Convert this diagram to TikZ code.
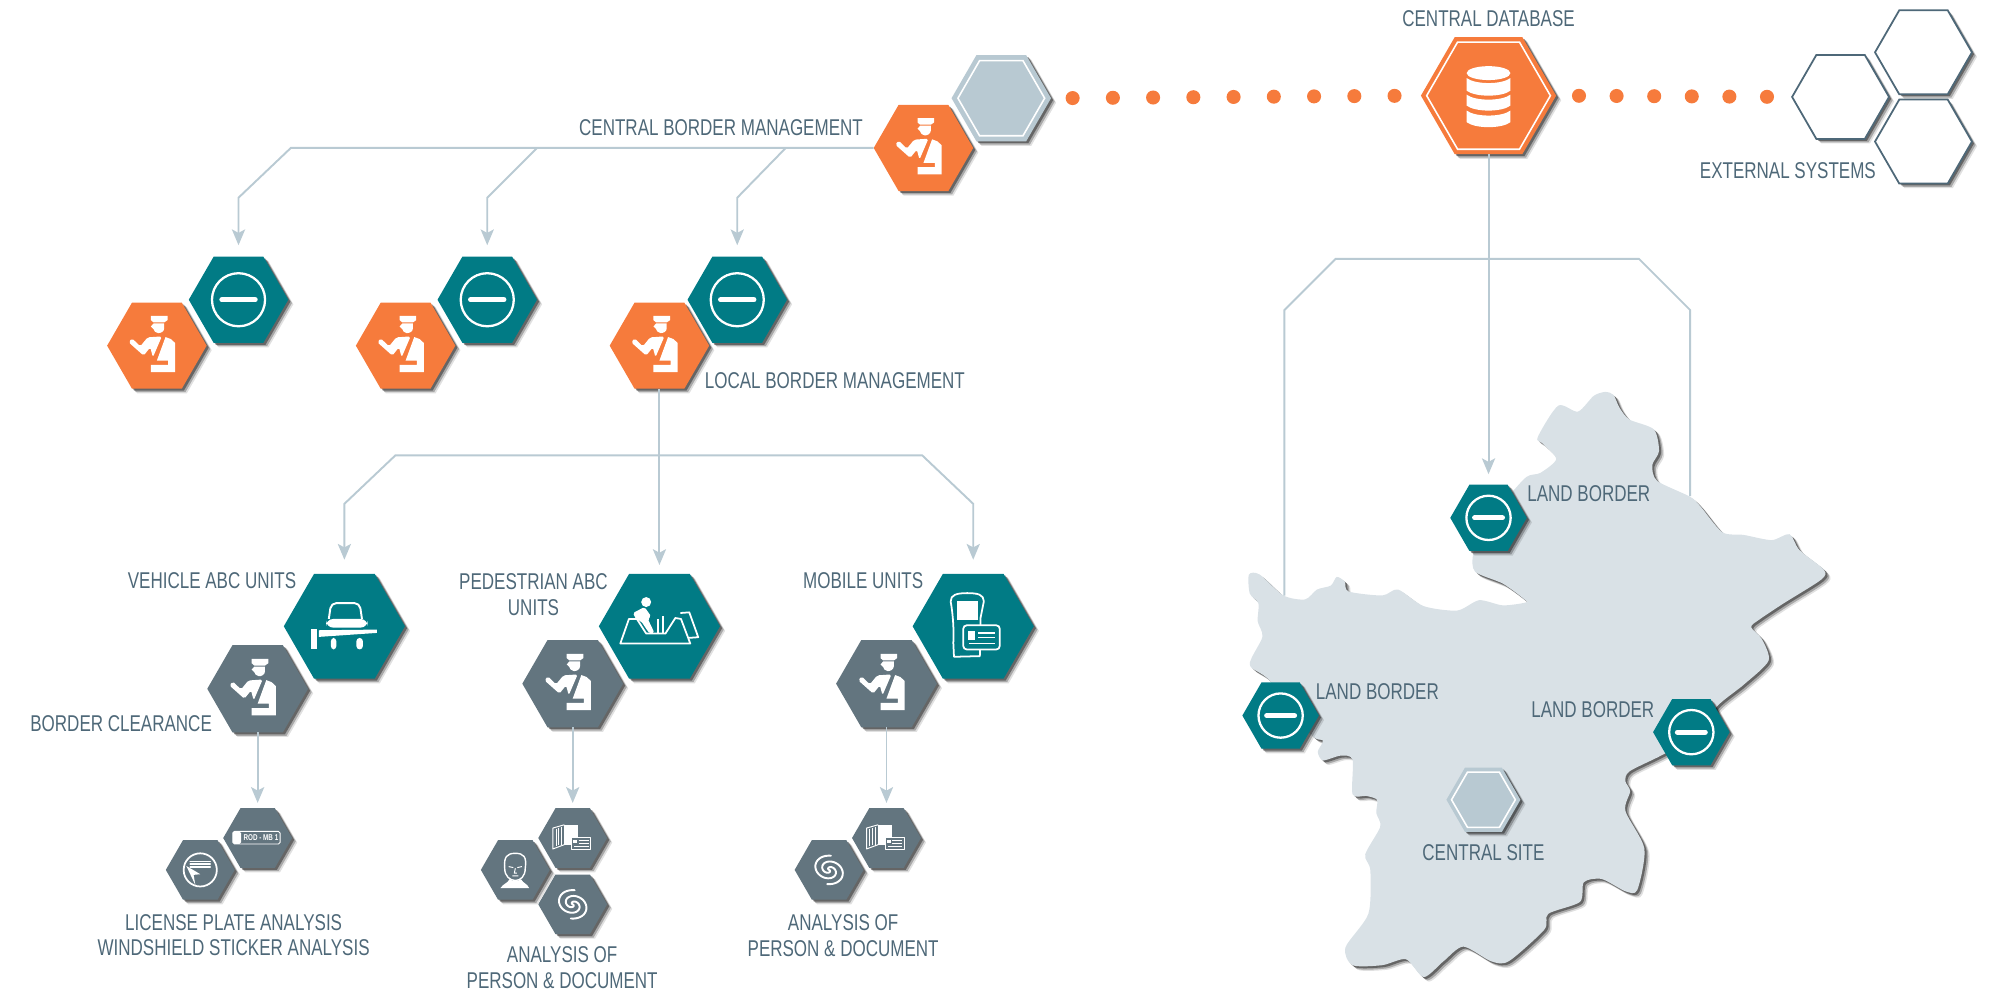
\documentclass[tikz,border=0pt]{standalone}
\usepackage{fontspec}
\setmainfont[FakeStretch=0.745]{Liberation Sans}
\usetikzlibrary{positioning,shapes.geometric,shadows,arrows.meta}

\definecolor{tealc}{HTML}{017B85}
\definecolor{orangec}{HTML}{F67B3C}
\definecolor{grayc}{HTML}{63757F}
\definecolor{linec}{HTML}{B9CAD3}
\definecolor{sitec}{HTML}{B8C9D2}
\definecolor{mapc}{HTML}{D9E1E6}
\definecolor{textc}{HTML}{4E6878}

\tikzset{
  softshadow/.style={
    drop shadow={shadow xshift=2.9pt,shadow yshift=-2.6pt,opacity=.12,fill=black},
    drop shadow={shadow xshift=2.1pt,shadow yshift=-1.9pt,opacity=.25,fill=black},
    drop shadow={shadow xshift=1.2pt,shadow yshift=-1.1pt,opacity=.4,fill=black}},
  hexbase/.style={regular polygon, regular polygon sides=6, inner sep=0pt, outer sep=0pt,
    minimum size=#1*0.02551cm, softshadow},
  tealhex/.style={hexbase=#1, fill=tealc},
  orangehex/.style={hexbase=#1, fill=orangec},
  grayhex/.style={hexbase=#1, fill=grayc},
  sitehex/.style={hexbase=#1, fill=sitec},
  openhex/.style={hexbase=#1, fill=white, draw=textc, line width=1pt},
  insethex/.style={regular polygon, regular polygon sides=6, inner sep=0pt, outer sep=0pt,
    minimum size=#1*0.02551cm, draw=white, line width=.9pt},
  lbl/.style={text=textc, inner sep=0pt, align=center, font=\fontsize{13}{14.6}\selectfont},
  conn/.style={draw=linec, line width=1.1pt},
  arr/.style={conn, -{Stealth[length=9pt,width=7.5pt,inset=2pt]}},
  dotline/.style={draw=orangec, line width=8pt, line cap=round},
  iconline/.style={draw=white, line width=1pt, line join=round},
  thinline/.style={draw=white, line width=.55pt, line join=round},
  officer/.pic={
    \fill[white] (-18,-90) -- (32,-90) -- (32,-77) -- (22,-70) -- (-10,-70) -- (-18,-77) -- cycle;
    \fill[white] (-10,-67) -- (22,-67) -- (22,-52) .. controls (22,-42) and (10,-37) .. (3,-38)
      .. controls (-4,-39) and (-10,-45) .. (-10,-50) -- (-18,-58) -- cycle;
    \fill[white,rounded corners=1pt] (-85,-10) -- (-75,-22) -- (-50,2) -- (-28,-25) -- (15,-28)
      -- (-12,35) -- (-20,5) -- (-40,30) -- cycle;
    \fill[white] (26,-26) -- (42,-20) -- (55,-8) -- (55,80) -- (-18,80) -- (-18,58) -- (34,58)
      -- (34,45) -- (0,45) -- cycle;
  },
  nogo/.pic={
    \draw[white, line width=1.3pt] (0,0) circle (80);
    \draw[white, line width=3pt, line cap=round] (-50,0) -- (50,0);
  },
  dbstack/.pic={
    \fill[white] (0,-68) ellipse (66 and 21);
    \foreach \up/\lo in {-53/-15,-3/30,45/80} {
      \fill[white] (-66,\up) .. controls (-40,\up+20) and (40,\up+20) .. (66,\up) -- (66,\lo)
        .. controls (40,\lo+20) and (-40,\lo+20) .. (-66,\lo) -- cycle;
    }
  },
  vehicle/.pic={
    \draw[iconline, line width=1.1pt, rounded corners=3pt] (-47,-22) -- (-40,-70) -- (46,-70) -- (53,-22);
    \fill[white, rounded corners=4pt] (-55,4) -- (-55,-22) -- (70,-22) -- (70,4) -- cycle;
    \path[fill=tealc] (-82,5) rectangle (98,13);
    \fill[white] (-77,12) -- (98,10) -- (98,20) -- (-77,32) -- cycle;
    \fill[white] (-102,7) rectangle (-82,70);
    \fill[white, rounded corners=2pt] (-41,35) rectangle (-24,70);
    \fill[white, rounded corners=2pt] (36,35) rectangle (56,70);
  },
  pedgate/.pic={
    \draw[iconline] (-118,52) -- (-92,-22) -- (-68,-22) -- (-40,22) -- (18,22) -- (48,-25)
      -- (65,-22) -- (93,52) -- cycle;
    \draw[iconline] (63,-40) -- (90,-42) -- (117,33) -- (88,35);
    \fill[white] (-40,-73) circle (15);
    \fill[white, rounded corners=1pt] (-80,-40) -- (-45,-58) -- (-25,-30) -- (-35,-22)
      -- (-15,20) -- (-30,22) -- (-55,-15) -- (-70,-20) -- cycle;
    \draw[iconline, line width=1.4pt] (-4,-22) -- (-4,22);
    \draw[iconline, line width=1.4pt] (10,-30) -- (10,22);
  },
  mobile/.pic={
    \draw[iconline] (-68,-75) .. controls (-68,-95) and (-50,-100) .. (-18,-100)
      .. controls (15,-100) and (32,-95) .. (32,-75) -- (22,-25) -- (20,90) -- (-58,92)
      -- (-60,50) .. controls (-58,20) and (-60,-30) .. (-68,-75) -- cycle;
    \fill[white] (-50,-75) rectangle (15,-20);
    \draw[iconline, fill=tealc, rounded corners=2pt] (-30,-3) rectangle (80,70);
    \fill[white] (-15,13) rectangle (5,40);
    \draw[iconline, line width=.7pt] (15,20) -- (65,20) (15,33) -- (65,33) (-13,53) -- (65,53);
  },
  docs/.pic={
    \fill[white] (-25,-40) rectangle (17,20);
    \draw[thinline] (-25,-40) -- (-60,-30) -- (-60,33) -- (-25,20);
    \draw[thinline] (-50,-28) -- (-50,25) (-42,-30) -- (-42,22) (-33,-32) -- (-33,20);
    \draw[thinline, fill=grayc] (-3,-2) rectangle (53,35);
    \fill[white] (2,5) rectangle (13,15);
    \draw[thinline] (18,8) -- (48,8) (18,17) -- (48,17) (5,27) -- (48,27);
  },
  swirl/.pic={
    \begin{scope}[rotate=-20, yscale=.8]
      \draw[iconline, line width=1.1pt, line cap=round] plot[domain=0:440, samples=50, variable=\t, smooth]
        ({(.5+.12*\t)*cos(\t)},{(.5+.12*\t)*sin(\t)});
      \draw[iconline, line width=1.1pt, line cap=round] plot[domain=0:440, samples=50, variable=\t, smooth]
        ({-(.5+.12*\t)*cos(\t)},{-(.5+.12*\t)*sin(\t)});
    \end{scope}
  },
  face/.pic={
    \draw[thinline, line width=.8pt] (-32,-5) .. controls (-35,-40) and (-25,-50) .. (0,-50)
      .. controls (25,-50) and (35,-40) .. (30,-5) .. controls (30,20) and (15,32) .. (0,32)
      .. controls (-15,32) and (-32,20) .. (-32,-5) -- cycle;
    \draw[thinline] (-20,-10) -- (-6,-7) (6,-7) -- (20,-10) (0,-5) -- (-3,10) -- (5,10) (-9,18) -- (9,18);
    \fill[white] (-45,55) .. controls (-35,40) and (-25,42) .. (-17,28) .. controls (-8,36) and (8,36) .. (17,28)
      .. controls (25,42) and (35,40) .. (42,55) -- cycle;
  },
  plate/.pic={
    \draw[thinline, rounded corners=1pt] (-75,-20) rectangle (68,18);
    \fill[white, rounded corners=1pt] (-75,-20) rectangle (-50,18);
    \node[text=white, inner sep=0pt, font=\fontsize{4.8}{5}\selectfont\bfseries] (platetext) at (10,-1) {ROD - MB 1};
  },
  sticker/.pic={
    \draw[iconline] (0,0) circle (50);
    \draw[iconline, line cap=round] (-30,-25) -- (30,-25) (-30,-17) -- (30,-17) (-30,-9) -- (30,-9);
    \fill[white] (-42,-12) -- (0,13) -- (-20,15) -- (-15,45) -- cycle;
  },
}

\begin{document}
\begin{tikzpicture}[x=0.02551cm,y=-0.02551cm]
  \useasboundingbox (0,0) rectangle (1568,780);

  % the map
  \begin{scope}[shift={(964.3,297.9)},scale=.31]
    \fill[mapc, softshadow]
      plot[smooth cycle, tension=.45] coordinates {
      (950,30) (970,38) (985,70) (1010,100) (1072,125) (1085,180) (1068,215) (1080,255) (1163,295)
      (1190,320) (1245,385) (1300,392) (1370,405) (1415,390) (1440,430) (1502,480) (1495,505)
      (1400,565) (1340,605) (1318,625) (1345,655) (1362,710) (1300,770) (1232,825) (1180,900)
      (1090,950) (1010,990) (1000,1015) (1012,1040) (1000,1090) (1048,1185) (1030,1290) (1000,1293)
      (940,1262) (895,1270) (885,1320) (805,1350) (795,1390) (705,1470) (660,1470) (590,1433)
      (540,1470) (490,1510) (445,1465) (385,1480) (310,1480) (292,1435) (350,1350) (355,1240)
      (342,1200) (380,1130) (370,1095) (372,1062) (345,1052) (310,1048) (310,960) (280,950)
      (235,962) (222,940) (235,912) (205,897) (100,760) (50,720) (82,650) (70,610) (72,565)
      (50,540) (48,492) (75,492) (135,545) (190,555) (220,530) (255,520) (270,498) (290,510)
      (300,535) (385,545) (425,530) (490,572) (575,583) (630,557) (690,570) (747,563) (745,555)
      (690,515) (620,485) (615,440) (640,380) (700,300) (750,245) (785,235) (825,200) (790,160)
      (778,145) (830,65) (880,80) (920,40)};
  \end{scope}

  % top row
  \node[orangehex=78] (mgmt) at (724,116) {};
  \node[sitehex=78] (central) at (785,77) {};
  \node[insethex=68] (centralin) at (central) {};
  \node[orangehex=106] (db) at (1167,75) {};
  \node[insethex=97] (dbin) at (db) {};
  \node[openhex=76] (ext1) at (1443,76) {};
  \node[openhex=76] (ext2) at (1508,41) {};
  \node[openhex=76] (ext3) at (1508,111) {};

  % local stations
  \node[tealhex=78] (stop1) at (187,235) {};
  \node[orangehex=78] (local1) at (123,271) {};
  \node[tealhex=78] (stop2) at (382,235) {};
  \node[orangehex=78] (local2) at (318,271) {};
  \node[tealhex=78] (stop3) at (578,235) {};
  \node[orangehex=78] (local3) at (517,271) {};

  % lanes
  \node[tealhex=95] (veh) at (270,491) {};
  \node[grayhex=79] (vehguard) at (202,540) {};
  \node[tealhex=95] (ped) at (517,491) {};
  \node[grayhex=79] (pedguard) at (449,536) {};
  \node[tealhex=95] (mob) at (763,491) {};
  \node[grayhex=79] (mobguard) at (695,536) {};

  % analysis
  \node[grayhex=54] (plate1) at (202,657) {};
  \node[grayhex=54] (sticker1) at (157,682) {};
  \node[grayhex=54] (doc1) at (449,657) {};
  \node[grayhex=54] (face1) at (404,682) {};
  \node[grayhex=54] (print1) at (449,709) {};
  \node[grayhex=54] (doc2) at (695,657) {};
  \node[grayhex=54] (print2) at (650,682) {};

  % on the map
  \node[tealhex=60] (land1) at (1167,406) {};
  \node[tealhex=60] (land2) at (1004,561) {};
  \node[tealhex=60] (land3) at (1326,574) {};
  \node[sitehex=58] (site) at (1163,627) {};
  \node[insethex=50] (sitein) at (site) {};

  % icons
  \foreach \n in {mgmt,local1,local2,local3,vehguard,pedguard,mobguard}
    \pic[scale=.26] at (\n) {officer};
  \foreach \n in {stop1,stop2,stop3}
    \pic[scale=.26] at (\n) {nogo};
  \foreach \n in {land1,land2,land3}
    \pic[scale=.217] at (\n) {nogo};
  \pic[scale=.26] at (db) {dbstack};
  \pic[scale=.26] at (veh) {vehicle};
  \pic[scale=.26] at (ped) {pedgate};
  \pic[scale=.26] at (mob) {mobile};
  \foreach \n in {doc1,doc2}
    \pic[scale=.26] at (\n) {docs};
  \foreach \n in {print1,print2}
    \pic[scale=.26] at (\n) {swirl};
  \pic[scale=.26] at (face1) {face};
  \pic[scale=.26] at (plate1) {plate};
  \pic[scale=.26] at (sticker1) {sticker};

  % free ends
  \coordinate (fork1a) at (228,116);
  \coordinate (fork1b) at (187,155);
  \coordinate (fork2a) at (421,116);
  \coordinate (fork2b) at (382,155);
  \coordinate (fork3a) at (616,116);
  \coordinate (fork3b) at (578,155);
  \coordinate (lane0) at (517,357);
  \coordinate (lane1a) at (310,357);
  \coordinate (lane1b) at (270,395);
  \coordinate (lane3a) at (723,357);
  \coordinate (lane3b) at (763,395);
  \coordinate (db0) at (1167,203);
  \coordinate (db1a) at (1047,203);
  \coordinate (db1b) at (1007,243);
  \coordinate (db1c) at (1007,467);
  \coordinate (db2a) at (1285,203);
  \coordinate (db2b) at (1325,243);
  \coordinate (db2c) at (1325,389);

  % connectors
  \draw[arr, shorten >=6.5pt] (mgmt.west) -- (fork1a) -- (fork1b) -- (stop1.north);
  \draw[arr, shorten >=6.5pt] (fork2a) -- (fork2b) -- (stop2.north);
  \draw[arr, shorten >=6.5pt] (fork3a) -- (fork3b) -- (stop3.north);
  \draw[arr, shorten >=5pt] (local3.south) -- (ped.north);
  \draw[arr, shorten >=8pt] (lane0) -- (lane1a) -- (lane1b) -- (veh.north);
  \draw[arr, shorten >=8pt] (lane0) -- (lane3a) -- (lane3b) -- (mob.north);
  \draw[arr, shorten >=3pt] (vehguard.south) -- (plate1.north);
  \draw[arr, shorten >=3pt] (pedguard.south) -- (doc1.north);
  \draw[arr, shorten >=3pt] (mobguard.south) -- (doc2.north);
  \draw[arr, shorten >=6pt] (db.south) -- (land1.north);
  \draw[conn] (db0) -- (db1a) -- (db1b) -- (db1c);
  \draw[conn] (db0) -- (db2a) -- (db2b) -- (db2c);
  \draw[dotline, dash pattern=on 0pt off 22.9pt, shorten <=12.3pt, shorten >=12pt] (central.east) -- (db.west);
  \draw[dotline, dash pattern=on 0pt off 21.4pt, shorten <=13pt, shorten >=12pt] (db.east) -- (ext1.west);

  % labels
  \node[lbl, above=5.5pt of db] (dblabel) {CENTRAL DATABASE};
  \node[lbl, above left=7pt and 6pt of mgmt.west] (mgmtlabel) {CENTRAL BORDER MANAGEMENT};
  \node[lbl, below=13pt of ext1.south, xshift=-30pt] (extlabel) {EXTERNAL SYSTEMS};
  \node[lbl, above right=0pt and 11.5pt of local3.corner 5] (locallabel) {LOCAL BORDER MANAGEMENT};
  \node[lbl, left=10pt of veh.corner 2, yshift=-4pt] (vehlabel) {VEHICLE ABC UNITS};
  \node[lbl, left=12pt of ped.corner 2, yshift=-12pt] (pedlabel) {PEDESTRIAN ABC\\UNITS};
  \node[lbl, left=11pt of mob.corner 2, yshift=-4pt] (moblabel) {MOBILE UNITS};
  \node[lbl, left=11.5pt of vehguard.corner 4, yshift=5pt] (guardlabel) {BORDER CLEARANCE};
  \node[lbl, below=8pt of sticker1.south, xshift=19pt] (platelabel) {LICENSE PLATE ANALYSIS\\WINDSHIELD STICKER ANALYSIS};
  \node[lbl, below=7pt of print1.south, xshift=-6pt] (pedanalysis) {ANALYSIS OF\\PERSON \& DOCUMENT};
  \node[lbl, below=8.5pt of print2.south, xshift=8pt] (mobanalysis) {ANALYSIS OF\\PERSON \& DOCUMENT};
  \node[lbl, right=11pt of land1.corner 1, yshift=-5pt] (land1label) {LAND BORDER};
  \node[lbl, right=9pt of land2.corner 1, yshift=-5pt] (land2label) {LAND BORDER};
  \node[lbl, left=10pt of land3.corner 2, yshift=-6pt] (land3label) {LAND BORDER};
  \node[lbl, below=7pt of site.south] (sitelabel) {CENTRAL SITE};
\end{tikzpicture}
\end{document}
